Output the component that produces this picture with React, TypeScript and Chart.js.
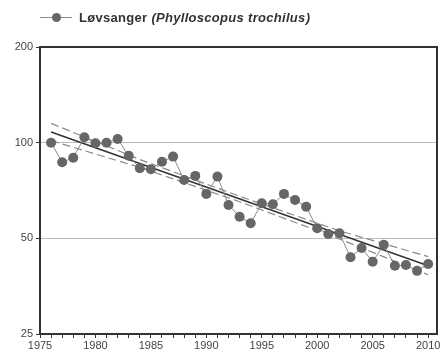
import React, { useEffect, useRef } from "react";
import { Chart, registerables } from "chart.js";

Chart.register(...registerables);

const years = [1976, 1977, 1978, 1979, 1980, 1981, 1982, 1983, 1984, 1985, 1986, 1987, 1988, 1989, 1990, 1991, 1992, 1993, 1994, 1995, 1996, 1997, 1998, 1999, 2000, 2001, 2002, 2003, 2004, 2005, 2006, 2007, 2008, 2009, 2010];
const index = [100, 86.8, 89.7, 104, 99.6, 100, 102.7, 91, 83.1, 82.5, 87.1, 90.4, 76.3, 78.6, 69, 78.2, 63.7, 58.5, 55.8, 64.5, 64, 69, 66, 62.9, 53.8, 51.6, 51.9, 43.6, 46.6, 42.2, 47.7, 41, 41.2, 39.5, 41.5];

const trendYears = [1976, 2010];
const trend = [108, 41];

const bandYears = [1976, 1984, 1993, 2002, 2010];
const upperBand = [115, 88.5, 67.8, 52.8, 43.8];
const lowerBand = [101.5, 83.6, 65.2, 49.8, 38.4];

const yTicks = [25, 50, 100, 200];
const xTickYears = [1975, 1976, 1977, 1978, 1979, 1980, 1981, 1982, 1983, 1984, 1985, 1986, 1987, 1988, 1989, 1990, 1991, 1992, 1993, 1994, 1995, 1996, 1997, 1998, 1999, 2000, 2001, 2002, 2003, 2004, 2005, 2006, 2007, 2008, 2009, 2010];

const legendLabel = "Løvsanger";
const legendLatin = "(Phylloscopus trochilus)";

const zip = (xs: number[], ys: number[]) => xs.map((x, i) => ({ x, y: ys[i] }));

const framePlugin = {
  id: "frame",
  afterDraw(chart: any) {
    const { ctx, chartArea } = chart;
    ctx.save();
    ctx.strokeStyle = "#333";
    ctx.lineWidth = 2;
    ctx.strokeRect(chartArea.left, chartArea.top, chartArea.right - chartArea.left, chartArea.bottom - chartArea.top);
    ctx.restore();
  },
};

export default function App() {
  const ref = useRef<HTMLCanvasElement>(null);

  useEffect(() => {
    document.body.style.margin = "0";
    const canvas = ref.current;
    if (!canvas) return;
    const chart = new Chart(canvas, {
      type: "line",
      data: {
        datasets: [
          {
            data: zip(years, index),
            borderColor: "#8a8a8a",
            borderWidth: 1,
            pointRadius: 5,
            pointBackgroundColor: "#666",
            pointBorderColor: "#666",
            pointBorderWidth: 0,
          },
          {
            data: zip(trendYears, trend),
            borderColor: "#333",
            borderWidth: 1.5,
            pointRadius: 0,
          },
          {
            data: zip(bandYears, upperBand),
            borderColor: "#8a8a8a",
            borderWidth: 1.2,
            borderDash: [8, 4],
            pointRadius: 0,
          },
          {
            data: zip(bandYears, lowerBand),
            borderColor: "#8a8a8a",
            borderWidth: 1.2,
            borderDash: [8, 4],
            pointRadius: 0,
          },
        ],
      },
      options: {
        animation: false,
        responsive: false,
        maintainAspectRatio: false,
        layout: { padding: { top: 47, right: 6, left: 0, bottom: 0 } },
        plugins: { legend: { display: false }, tooltip: { enabled: false } },
        scales: {
          x: {
            type: "linear",
            min: 1975,
            max: 2010.8,
            afterBuildTicks: (scale: any) => {
              scale.ticks = xTickYears.map((v) => ({ value: v }));
            },
            afterFit: (scale: any) => {
              scale.height = 26;
            },
            ticks: {
              autoSkip: false,
              maxRotation: 0,
              color: "#444",
              font: { family: "Liberation Sans, Arial", size: 11 },
              padding: 1,
              callback: (v: any) => (Number(v) % 5 === 0 ? String(v) : ""),
            },
            grid: {
              drawOnChartArea: false,
              drawTicks: true,
              tickLength: 4,
              tickColor: "#333",
            },
            border: { display: false },
          },
          y: {
            type: "logarithmic",
            min: 25,
            max: 200,
            afterBuildTicks: (scale: any) => {
              scale.ticks = yTicks.map((v) => ({ value: v }));
            },
            afterFit: (scale: any) => {
              scale.width = 40;
            },
            ticks: {
              color: "#444",
              font: { family: "Liberation Sans, Arial", size: 11 },
              padding: 3,
              callback: (v: any) => String(v),
            },
            grid: {
              color: (c: any) => (c.tick && (c.tick.value === 50 || c.tick.value === 100) ? "#bbb" : "rgba(0,0,0,0)"),
              lineWidth: 1,
              tickLength: 4,
              tickColor: "#333",
            },
            border: { display: false },
          },
        },
      },
      plugins: [framePlugin],
    } as any);
    return () => chart.destroy();
  }, []);

  return (
    <div style={{ position: "relative", width: 443, height: 360 }}>
      <canvas ref={ref} width={443} height={360} style={{ display: "block" }} />
      <div
        style={{
          position: "absolute",
          left: 40,
          top: 9,
          display: "flex",
          alignItems: "center",
          fontFamily: "Liberation Sans, Arial, sans-serif",
          fontSize: 13,
          letterSpacing: 0.3,
          fontWeight: "bold",
          color: "#333",
          whiteSpace: "nowrap",
        }}
      >
        <span style={{ position: "relative", width: 32, height: 16, display: "inline-block" }}>
          <span style={{ position: "absolute", left: 0, top: 7.5, width: 32, height: 1, background: "#8a8a8a" }} />
          <span style={{ position: "absolute", left: 12, top: 3.5, width: 9, height: 9, borderRadius: 5, background: "#666" }} />
        </span>
        <span style={{ marginLeft: 7 }}>
          {legendLabel} <i>{legendLatin}</i>
        </span>
      </div>
    </div>
  );
}
